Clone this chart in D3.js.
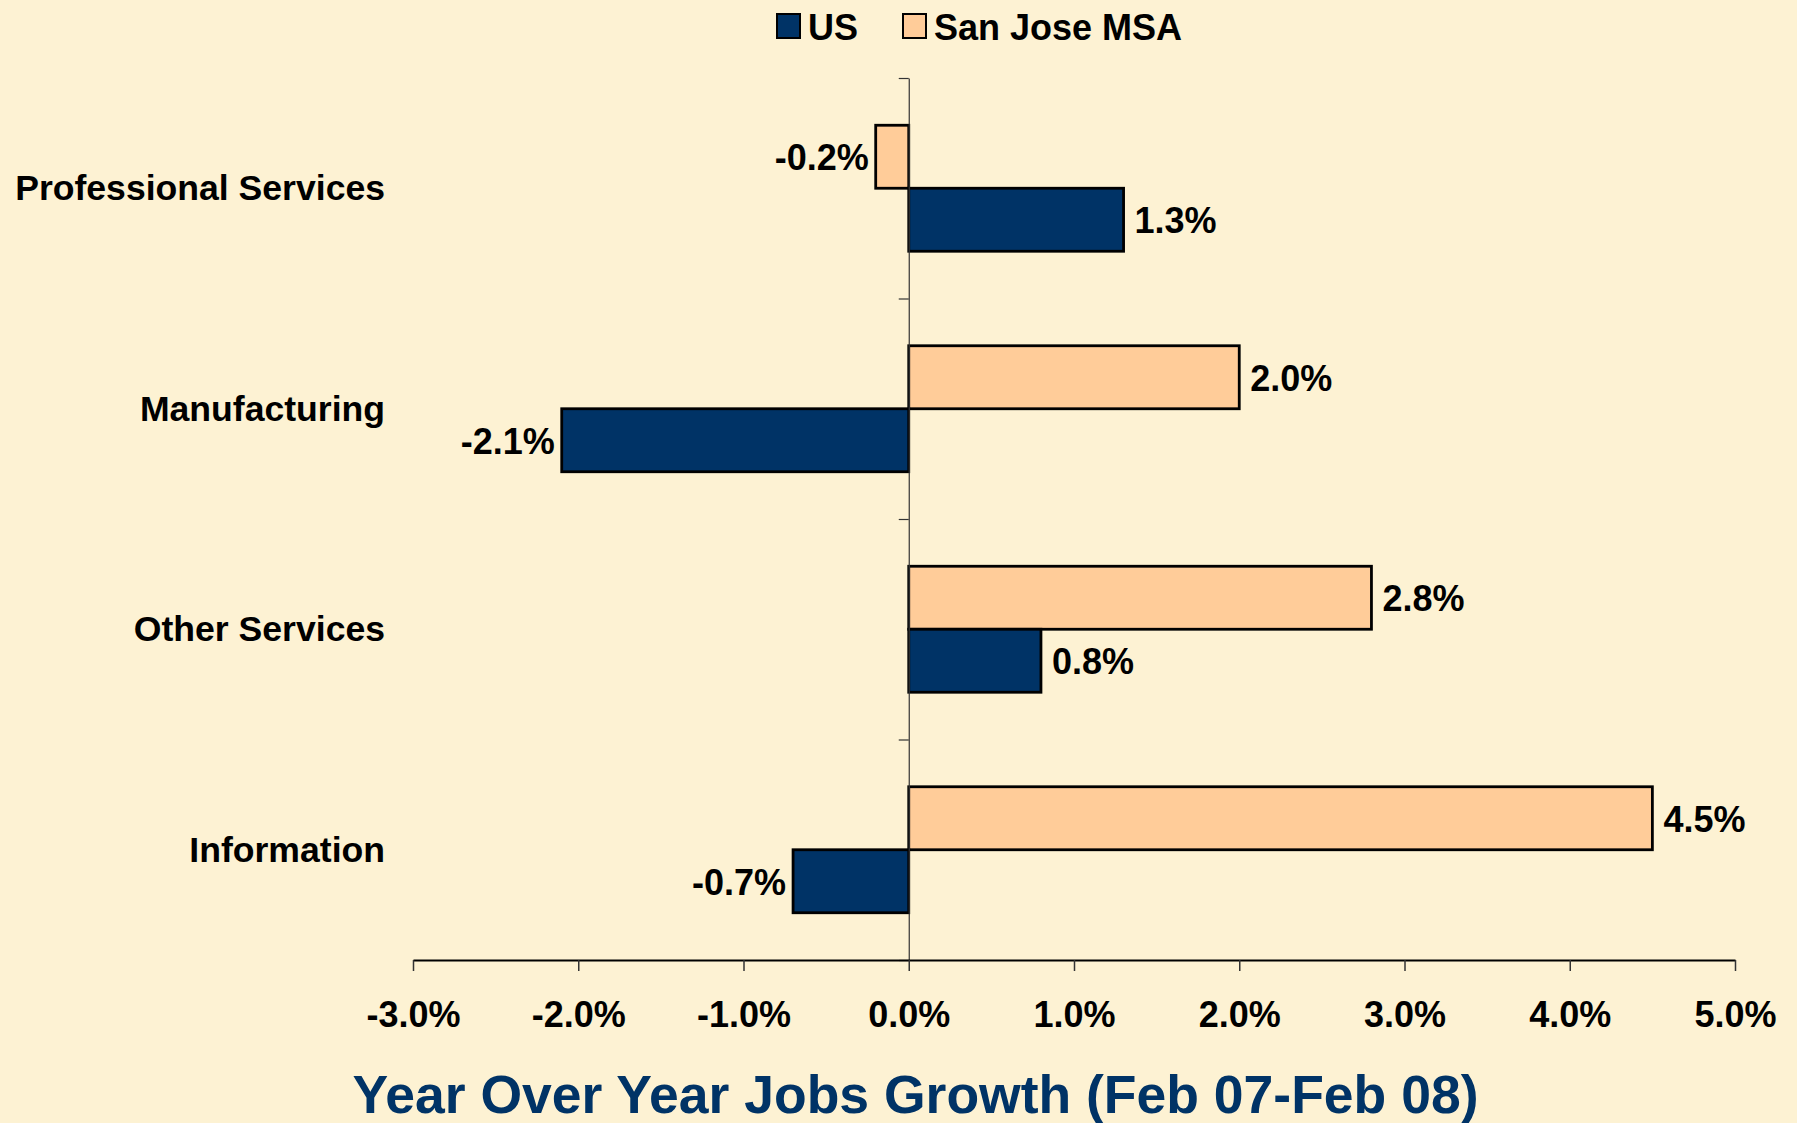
<!DOCTYPE html>
<html>
<head>
<meta charset="utf-8">
<script src="https://cdn.jsdelivr.net/npm/d3@7"></script>
<style>
  body { margin: 0; background: #FDF2D3; }
  text { font-family: "Liberation Sans", Arial, sans-serif; font-weight: bold; }
</style>
</head>
<body>
<svg id="chart" width="1797" height="1123"></svg>
<script>
// data
var categories = ["Professional Services", "Manufacturing", "Other Services", "Information"];
var seriesNames = ["US", "San Jose MSA"];
var usValues = [1.3, -2.1, 0.8, -0.7];
var sjValues = [-0.2, 2.0, 2.8, 4.5];
var xTicks = [-3, -2, -1, 0, 1, 2, 3, 4, 5];
var titleText = "Year Over Year Jobs Growth (Feb 07-Feb 08)";

var W = 1797, H = 1123;
var plotLeft = 413, plotRight = 1735, plotTop = 78, plotBottom = 960;
var usColor = "#003366", sjColor = "#FFCC99";

var svg = d3.select("#chart");
svg.append("rect").attr("width", W).attr("height", H).attr("fill", "#FDF2D3");

var xScale = d3.scaleLinear().domain([-3, 5]).range([plotLeft, plotRight]);

// category bands, gap width ~150%
var yBand = d3.scaleBand()
  .domain(categories)
  .range([plotTop, plotBottom])
  .paddingInner(0.4286)
  .paddingOuter(0.2143);

// San Jose bar sits on top, US below
var ySub = d3.scaleBand().domain(["sj", "us"]).range([0, yBand.bandwidth()]);

var rows = categories.map(function(c, i) {
  return { cat: c, sj: sjValues[i], us: usValues[i] };
});

var groups = svg.selectAll("g.cat")
  .data(rows)
  .enter().append("g")
  .attr("class", "cat")
  .attr("transform", function(d) { return "translate(0," + yBand(d.cat) + ")"; });

var bars = groups.selectAll("g.bar")
  .data(function(d) {
    return [{ key: "sj", v: d.sj }, { key: "us", v: d.us }];
  })
  .enter().append("g").attr("class", "bar");

bars.append("rect")
  .attr("x", function(d) { return xScale(Math.min(0, d.v)); })
  .attr("y", function(d) { return ySub(d.key); })
  .attr("width", function(d) { return Math.abs(xScale(d.v) - xScale(0)); })
  .attr("height", ySub.bandwidth())
  .attr("fill", function(d) { return d.key === "us" ? usColor : sjColor; })
  .attr("stroke", "#000")
  .attr("stroke-width", 2.8);

// value labels
bars.append("text")
  .text(function(d) { return d.v.toFixed(1) + "%"; })
  .attr("x", function(d) { return d.v < 0 ? xScale(d.v) - 7 : xScale(d.v) + 11; })
  .attr("y", function(d) { return ySub(d.key) + ySub.bandwidth() / 2 + 1; })
  .attr("text-anchor", function(d) { return d.v < 0 ? "end" : "start"; })
  .attr("dominant-baseline", "central")
  .attr("font-size", 36)
  .attr("fill", "#000");

// category axis at zero
var catIdx = d3.scaleLinear().domain([0, categories.length]).range([plotTop, plotBottom]);
var catAxis = svg.append("g")
  .attr("transform", "translate(" + xScale(0) + ",0)")
  .call(d3.axisLeft(catIdx).tickValues(d3.range(categories.length + 1)).tickFormat("").tickSize(10).tickSizeOuter(0));
catAxis.selectAll("line, path").attr("stroke", "#333").attr("stroke-width", 1.2);

// category labels
svg.selectAll("text.cat-label")
  .data(categories)
  .enter().append("text")
  .attr("class", "cat-label")
  .attr("x", 385)
  .attr("y", function(d) { return yBand(d) + yBand.bandwidth() / 2; })
  .attr("text-anchor", "end")
  .attr("dominant-baseline", "central")
  .attr("font-size", 35.6)
  .attr("fill", "#000")
  .text(function(d) { return d; });

// value axis
var xAxis = svg.append("g")
  .attr("transform", "translate(0," + plotBottom + ")")
  .call(d3.axisBottom(xScale).tickValues(xTicks)
    .tickFormat(function(d) { return d.toFixed(1) + "%"; })
    .tickSize(11).tickSizeOuter(0));
xAxis.select(".domain").attr("stroke", "#000").attr("stroke-width", 2);
xAxis.selectAll(".tick line").attr("stroke", "#333").attr("stroke-width", 1.5);
xAxis.selectAll(".tick text")
  .attr("y", 54).attr("dy", null)
  .attr("dominant-baseline", "central")
  .attr("font-size", 36)
  .attr("font-family", "Liberation Sans, Arial, sans-serif")
  .attr("font-weight", "bold")
  .attr("fill", "#000");

// title
svg.append("text")
  .attr("x", (353 + 1478) / 2)
  .attr("y", 1094)
  .attr("text-anchor", "middle")
  .attr("dominant-baseline", "central")
  .attr("font-size", 53.5)
  .attr("fill", usColor)
  .text(titleText);

// legend
var legendItems = [
  { name: seriesNames[0], color: usColor, x: 777 },
  { name: seriesNames[1], color: sjColor, x: 903 }
];
var legend = svg.selectAll("g.legend")
  .data(legendItems)
  .enter().append("g")
  .attr("class", "legend")
  .attr("transform", function(d) { return "translate(" + d.x + ",14)"; });
legend.append("rect")
  .attr("width", 23).attr("height", 24)
  .attr("fill", function(d) { return d.color; })
  .attr("stroke", "#000").attr("stroke-width", 2);
legend.append("text")
  .attr("x", 31).attr("y", 13)
  .attr("dominant-baseline", "central")
  .attr("font-size", 36)
  .attr("fill", "#000")
  .text(function(d) { return d.name; });
</script>
</body>
</html>
